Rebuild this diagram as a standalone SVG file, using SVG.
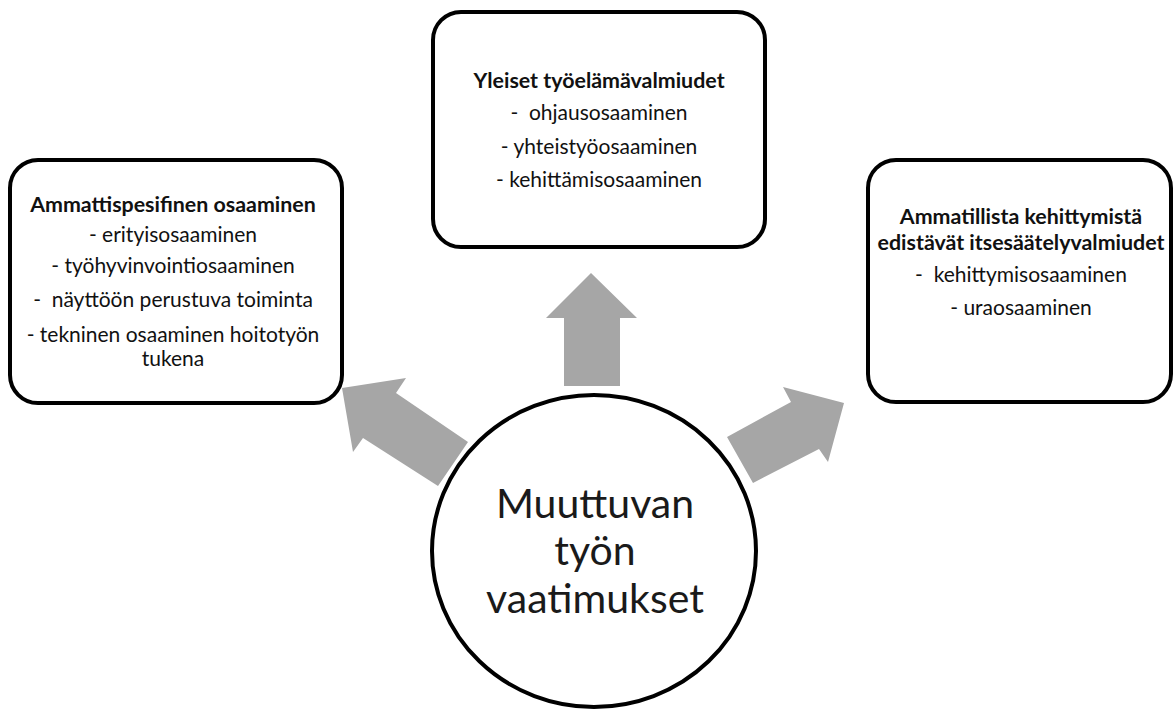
<svg xmlns="http://www.w3.org/2000/svg" width="1173" height="711" viewBox="0 0 1173 711">
  <style>
    .box { fill: #ffffff; stroke: #000000; stroke-width: 4; }
    .hub { fill: #ffffff; stroke: #000000; stroke-width: 4; }
    .arrow { fill: #a6a6a6; stroke: none; }
    text { font-family: Lato, "Open Sans", "Liberation Sans", sans-serif; fill: #111111; text-anchor: middle; white-space: pre; }
    .title { font-size: 21.4px; font-weight: bold; }
    .item { font-size: 21px; }
    .hubtext { font-size: 41px; fill: #1a1a1a; }
  </style>
  <rect width="1173" height="711" fill="#ffffff"/>

  <!-- block arrows pointing from the hub to each box -->
  <g id="connectors">
    <polygon class="arrow" points="591,273 637,318 620,318 620,386 564,386 564,318 546,318"/>
    <polygon class="arrow" points="342,388 406,378 396,393 468,442 438,486 363,438 353,452"/>
    <polygon class="arrow" points="844,403 828,462 819,449 753,483 727,437 791,402 783,387"/>
  </g>

  <g id="hub">
    <ellipse class="hub" cx="594" cy="551" rx="162" ry="156"/>
    <text class="hubtext" x="595" y="518">Muuttuvan</text>
    <text class="hubtext" x="595" y="565">työn</text>
    <text class="hubtext" x="595" y="613">vaatimukset</text>
  </g>

  <g id="box-left">
    <rect class="box" x="10" y="160" width="332" height="243" rx="28"/>
    <text class="title" x="173" y="212">Ammattispesifinen osaaminen</text>
    <text class="item" x="173" y="242">- erityisosaaminen</text>
    <text class="item" x="173" y="273">- työhyvinvointiosaaminen</text>
    <text class="item" x="173" y="307">-  näyttöön perustuva toiminta</text>
    <text class="item" x="173" y="342">- tekninen osaaminen hoitotyön</text>
    <text class="item" x="173" y="366">tukena</text>
  </g>

  <g id="box-top">
    <rect class="box" x="433" y="12" width="332" height="235" rx="28"/>
    <text class="title" x="599" y="88">Yleiset työelämävalmiudet</text>
    <text class="item" x="599" y="120">-  ohjausosaaminen</text>
    <text class="item" x="599" y="154">- yhteistyöosaaminen</text>
    <text class="item" x="599" y="187">- kehittämisosaaminen</text>
  </g>

  <g id="box-right">
    <rect class="box" x="868" y="160" width="303" height="242" rx="28"/>
    <text class="title" x="1021" y="224">Ammatillista kehittymistä</text>
    <text class="title" x="1021" y="250">edistävät itsesäätelyvalmiudet</text>
    <text class="item" x="1021" y="282">-  kehittymisosaaminen</text>
    <text class="item" x="1021" y="315">- uraosaaminen</text>
  </g>
</svg>
